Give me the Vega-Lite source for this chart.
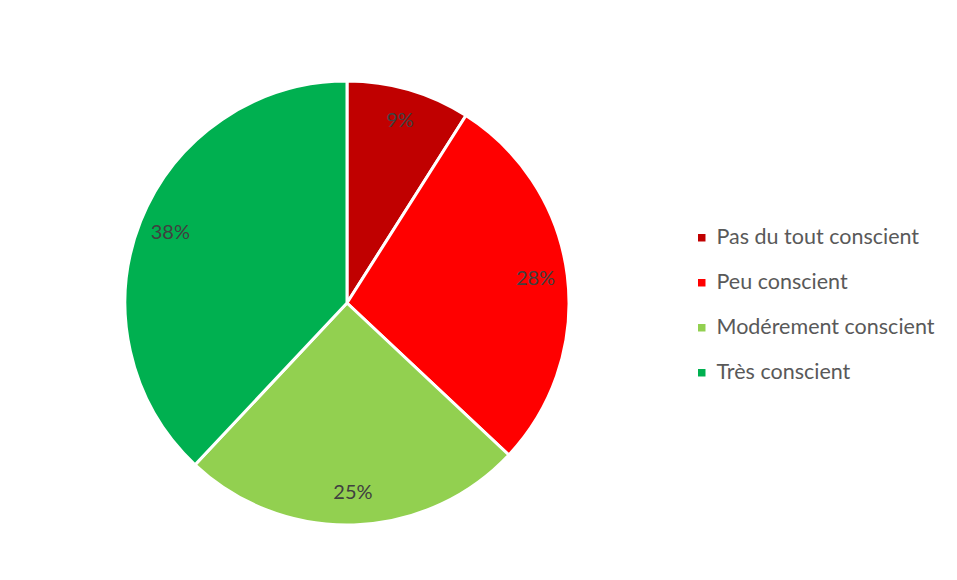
{
  "$schema": "https://vega.github.io/schema/vega-lite/v6.json",
  "width": 674,
  "height": 576,
  "autosize": {"type": "none"},
  "padding": {"left": 10, "top": 15, "right": 273, "bottom": 0},
  "background": "white",
  "config": {"view": {"stroke": null}},
  "data": {
    "values": [
      {"cat": "Pas du tout conscient", "pct": 9, "ord": 1, "label": "9%"},
      {"cat": "Peu conscient", "pct": 28, "ord": 2, "label": "28%"},
      {"cat": "Modérement conscient", "pct": 25, "ord": 3, "label": "25%"},
      {"cat": "Très conscient", "pct": 38, "ord": 4, "label": "38%"}
    ]
  },
  "encoding": {
    "theta": {"field": "pct", "type": "quantitative", "stack": true},
    "order": {"field": "ord", "type": "quantitative"}
  },
  "layer": [
    {
      "mark": {"type": "arc", "outerRadius": 222, "stroke": "white", "strokeWidth": 3},
      "encoding": {
        "color": {
          "field": "cat",
          "type": "nominal",
          "sort": ["Pas du tout conscient", "Peu conscient", "Modérement conscient", "Très conscient"],
          "scale": {
            "domain": ["Pas du tout conscient", "Peu conscient", "Modérement conscient", "Très conscient"],
            "range": ["#C00000", "#FF0000", "#92D050", "#00B050"]
          },
          "legend": {
            "title": null,
            "orient": "none",
            "legendX": 681,
            "legendY": 212,
            "padding": 0,
            "symbolType": "square",
            "symbolSize": 56,
            "symbolStrokeWidth": 0,
            "labelFont": "Lato",
            "labelFontSize": 21.5,
            "labelColor": "#595959",
            "labelOffset": 4,
            "rowPadding": 22,
            "labelLimit": 400
          }
        }
      }
    },
    {
      "mark": {"type": "text", "radius": 190, "fontSize": 20, "font": "Lato", "fill": "#404040"},
      "encoding": {
        "text": {"field": "label", "type": "nominal"}
      }
    }
  ]
}
